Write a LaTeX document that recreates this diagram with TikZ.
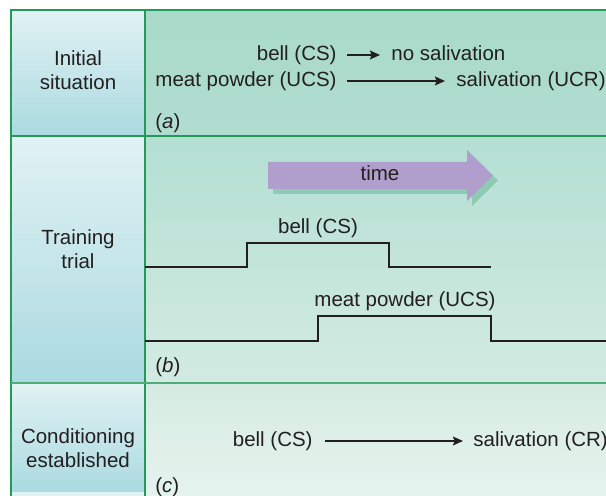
\documentclass[tikz,border=0pt]{standalone}
\usepackage{fontspec}
\setmainfont{Liberation Sans}
\usetikzlibrary{arrows.meta,calc}
\definecolor{ink}{HTML}{231F20}
\definecolor{gridgreen}{HTML}{23995A}
\definecolor{leftTop}{HTML}{E1F2F4}
\definecolor{leftBot}{HTML}{AADAE0}
\definecolor{rowAtop}{HTML}{A8DAC9}
\definecolor{rowAbot}{HTML}{B1DDD0}
\definecolor{rowBtop}{HTML}{B3DFD2}
\definecolor{rowBbot}{HTML}{D3EBE2}
\definecolor{rowCtop}{HTML}{D5EBE2}
\definecolor{rowCbot}{HTML}{E5F3EE}
\definecolor{timePurple}{HTML}{B09FCC}
\definecolor{timeShadow}{HTML}{8FCAB5}
\newcommand\DrawRow[4]{
  \shade[top color=leftTop,bottom color=leftBot] (11,#1) rectangle (145,#2);
  \shade[top color=#3,bottom color=#4] (145,#1) rectangle (612,#2);
}
\newcommand\DrawTime[2]{
  \fill[#2] ($(268,162)+(#1,#1)$) -- ++(199,0) -- ++(0,-12) -- ++(26,25.5)
    -- ++(-26,25.5) -- ++(0,-12) -- ++(-199,0) -- cycle;
}
\tikzset{
  txt/.style={inner sep=0pt,text=ink,font=\fontsize{10.25}{12}\selectfont,
    text height=7.5pt,text depth=2.2pt},
  cell/.style={txt,align=center,text height=,text depth=},
  arr/.style={draw=ink,line width=0.85pt,shorten <=5pt,shorten >=5.5pt,
    -{Stealth[length=5pt,width=4.4pt,inset=0.8pt]}},
  wave/.style={draw=ink,line width=1pt},
  rule/.style={draw=gridgreen,line width=0.9pt}
}
\begin{document}
\begin{tikzpicture}[x=0.5pt,y=-0.5pt]
\useasboundingbox (0,0) rectangle (606,496);
\clip (0,0) rectangle (606,496);
\fill[white] (0,0) rectangle (606,496);
% rows
\DrawRow{10}{136}{rowAtop}{rowAbot}
\DrawRow{136}{383}{rowBtop}{rowBbot}
\DrawRow{383}{492}{rowCtop}{rowCbot}
\fill[leftTop] (11,492) rectangle (145,500);
\fill[rowCbot] (145,492) rectangle (612,500);
% grid
\draw[rule] (612,10) -- (11,10) -- (11,500);
\draw[rule] (145,10) -- (145,500);
\draw[rule] (11,136) -- (612,136);
\draw[rule,draw=gridgreen!80] (11,383) -- (612,383);
\draw[draw=leftTop,line width=0.6pt] (12,492.5) -- (144,492.5);

% (a) initial situation
\node[cell] (initial) at (78,70) {Initial\\situation};
\node[txt,anchor=east] (bellA) at (337,55) {bell (CS)};
\node[txt,anchor=west] (nosal) at (391,55) {no salivation};
\node[txt,anchor=east] (meatA) at (337,81) {meat powder (UCS)};
\node[txt,anchor=west] (salA) at (456,81) {salivation (UCR)};
\draw[arr] (bellA) -- (nosal);
\draw[arr] (meatA) -- (salA);
\node[txt,anchor=west] (tagA) at (155,123) {(\textit{a})};

% (b) training trial
\node[cell] (training) at (78,249) {Training\\trial};
\DrawTime{5}{timeShadow}
\DrawTime{0}{timePurple}
\node[txt] (time) at (380,175.5) {time};
\draw[wave] (145,267) -- (247,267) -- (247,243) -- (389,243) -- (389,267) -- (491,267);
\node[txt] (bellB) at (318,228) {bell (CS)};
\draw[wave] (145,341) -- (318,341) -- (318,316) -- (491,316) -- (491,341) -- (612,341);
\node[txt] (meatB) at (405,301) {meat powder (UCS)};
\node[txt,anchor=west] (tagB) at (155,367) {(\textit{b})};

% (c) conditioning established
\node[cell] (cond) at (78,448) {Conditioning\\established};
\node[txt,anchor=east] (bellC) at (313,441) {bell (CS)};
\node[txt,anchor=west] (salC) at (473,441) {salivation (CR)};
\draw[arr,shorten <=6pt,shorten >=5pt] (bellC) -- (salC);
\node[txt,anchor=west] (tagC) at (155,487) {(\textit{c})};
\end{tikzpicture}
\end{document}
